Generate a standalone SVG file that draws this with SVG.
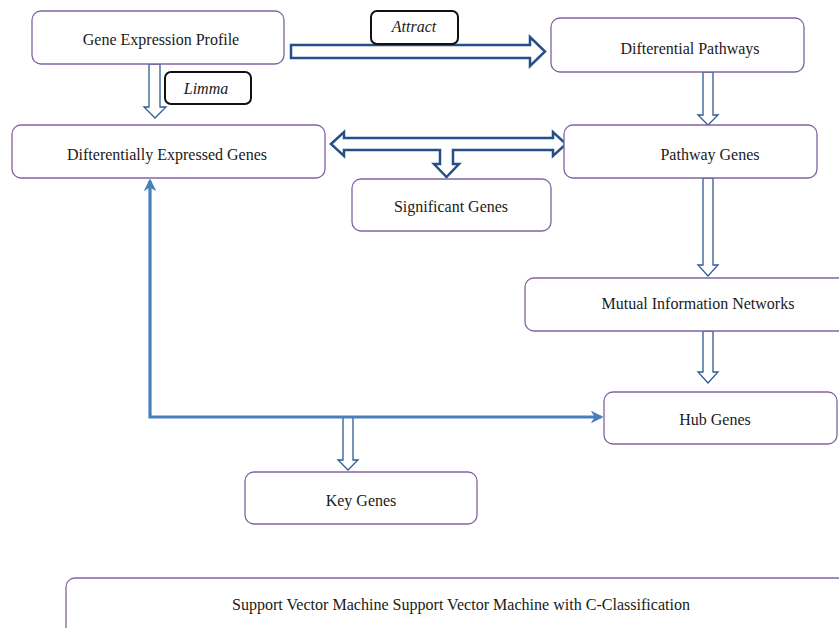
<svg xmlns="http://www.w3.org/2000/svg" width="839" height="628" viewBox="0 0 839 628">
<style>
.box{fill:#fff;stroke:#8064a2;stroke-width:1.3}
.lbl{fill:#fff;stroke:#111;stroke-width:2}
.t{font-family:"Liberation Serif","DejaVu Serif",serif;font-size:16px;fill:#1a1a1a;text-anchor:middle}
.i{font-style:italic}
.ha{fill:#fff;stroke:#264f87;stroke-width:2.5;stroke-linejoin:miter}
.hv{fill:#fff;stroke:#2f5b93;stroke-width:1.3}
.blue{fill:none;stroke:#4a7ebb;stroke-width:3.2}
</style>
<defs>
<marker id="ah" viewBox="0 0 10 10" refX="8" refY="5" markerWidth="4" markerHeight="4" markerUnits="strokeWidth" orient="auto-start-reverse">
<path d="M0,0 L10,5 L0,10 L3,5 Z" fill="#4a7ebb"/>
</marker>
</defs>
<rect width="839" height="628" fill="#fff"/>

<g id="connectors">
<polygon class="ha" points="291,45 530,45 530,37 545,51.5 530,66 530,58 291,58"/>
<polygon class="hv" points="149,64 160,64 160,107 166,107 155,118 144,107 149,107"/>
<polygon class="hv" points="703,72 713,72 713,115 718,115 708,125 698,115 703,115"/>
<polygon class="hv" points="703,178 713,178 713,265 718,265 708,276 698,265 703,265"/>
<polygon class="hv" points="703,331 713,331 713,372 718,372 708,383 698,372 703,372"/>
<polygon class="hv" points="343,417 353,417 353,460 358,460 348,470 338,460 343,460"/>
<polygon class="ha" points="331,144 344,132 344,138 553,138 553,132 566,144 553,156 553,150 453,150 453,164 459,164 446.5,177 434,164 440,164 440,150 344,150 344,156"/>
<path class="blue" d="M150,181 V417 H601" marker-start="url(#ah)" marker-end="url(#ah)"/>
</g>

<g id="limma-label">
<rect class="lbl" x="165" y="72" width="86" height="32" rx="6"/>
<text class="t i" x="206" y="94">Limma</text>
</g>
<g id="attract-label">
<rect class="lbl" x="371" y="11" width="87" height="33" rx="6"/>
<text class="t i" x="414" y="32">Attract</text>
</g>

<g id="gene-expression-profile">
<rect class="box" x="32" y="11" width="252" height="53" rx="9"/>
<text class="t" x="161" y="45">Gene Expression Profile</text>
</g>
<g id="differentially-expressed-genes">
<rect class="box" x="12" y="125" width="313" height="53" rx="9"/>
<text class="t" x="167" y="160">Difterentially Expressed Genes</text>
</g>
<g id="differential-pathways">
<rect class="box" x="551" y="18" width="253" height="54" rx="9"/>
<text class="t" x="690" y="54">Difterential Pathways</text>
</g>
<g id="pathway-genes">
<rect class="box" x="564" y="125" width="253" height="53" rx="9"/>
<text class="t" x="710" y="160">Pathway Genes</text>
</g>
<g id="significant-genes">
<rect class="box" x="352" y="179" width="199" height="52" rx="9"/>
<text class="t" x="451" y="212">Significant Genes</text>
</g>
<g id="mutual-information-networks">
<rect class="box" x="525" y="278" width="330" height="53" rx="9"/>
<text class="t" x="698" y="309">Mutual Information Networks</text>
</g>
<g id="hub-genes">
<rect class="box" x="604" y="392" width="233" height="52" rx="9"/>
<text class="t" x="715" y="425">Hub Genes</text>
</g>
<g id="key-genes">
<rect class="box" x="245" y="472" width="232" height="52" rx="9"/>
<text class="t" x="361" y="506">Key Genes</text>
</g>
<g id="svm">
<rect class="box" x="66" y="578" width="800" height="80" rx="9"/>
<text class="t" x="461" y="610" textLength="458" lengthAdjust="spacingAndGlyphs">Support Vector Machine Support Vector Machine with C-Classification</text>
</g>
</svg>
